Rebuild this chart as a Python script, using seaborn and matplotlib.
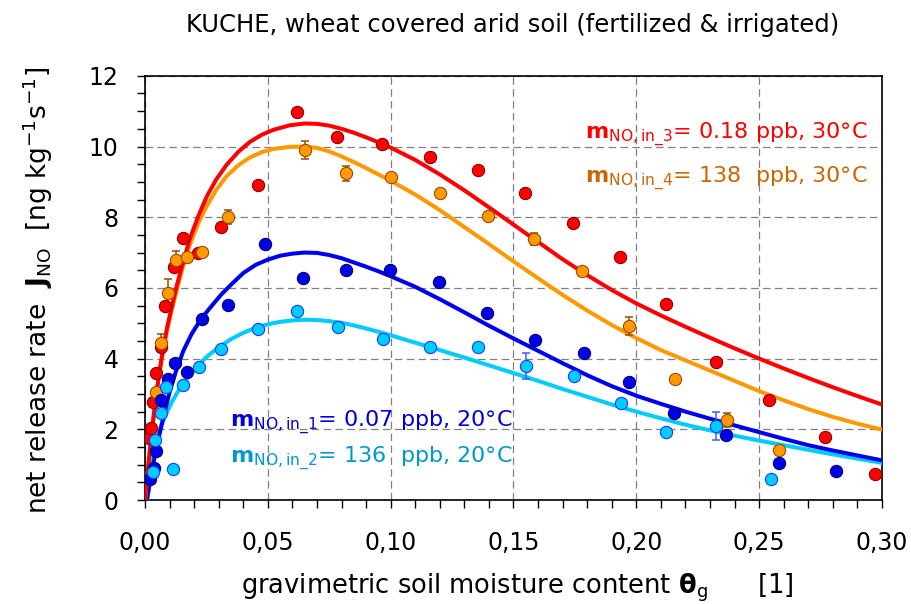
import matplotlib
matplotlib.use("Agg")
import matplotlib.pyplot as plt
from matplotlib.ticker import MultipleLocator, FuncFormatter
import seaborn as sns

# ---- measured NO release rates (theta_g [1], J_NO [ng kg-1 s-1]) ----
theta_m1 = [0.0020, 0.0037, 0.0045, 0.0064, 0.0092, 0.0122, 0.0169, 0.0230, 0.0339, 0.0488,
            0.0644, 0.0820, 0.0996, 0.1196, 0.1392, 0.1588, 0.1785, 0.1972, 0.2154, 0.2365,
            0.2581, 0.2812]
J_m1 = [0.59, 0.90, 1.40, 2.83, 3.42, 3.87, 3.63, 5.12, 5.52, 7.23,
        6.27, 6.51, 6.51, 6.18, 5.30, 4.53, 4.17, 3.33, 2.47, 1.84,
        1.06, 0.83]

theta_m2 = [0.0031, 0.0041, 0.0064, 0.0085, 0.0115, 0.0156, 0.0220, 0.0308, 0.0461, 0.0617,
            0.0786, 0.0969, 0.1161, 0.1355, 0.1551, 0.1745, 0.1938, 0.2121, 0.2324, 0.2548]
J_m2 = [0.78, 1.70, 2.45, 3.21, 0.88, 3.25, 3.77, 4.27, 4.83, 5.36,
        4.88, 4.55, 4.32, 4.32, 3.79, 3.51, 2.75, 1.91, 2.10, 0.59]
err_m2 = [0, 0, 0, 0, 0, 0, 0, 0, 0, 0,
          0, 0, 0, 0, 0.36, 0, 0, 0, 0.39, 0]

theta_m3 = [0.0018, 0.0024, 0.0031, 0.0043, 0.0064, 0.0081, 0.0118, 0.0156, 0.0217, 0.0309,
            0.0461, 0.0617, 0.0783, 0.0965, 0.1159, 0.1355, 0.1547, 0.1741, 0.1934, 0.2121,
            0.2324, 0.2541, 0.2768, 0.2972]
J_m3 = [1.75, 2.03, 2.78, 3.60, 4.34, 5.49, 6.60, 7.40, 7.00, 7.73,
        8.90, 10.98, 10.26, 10.07, 9.69, 9.34, 8.68, 7.85, 6.88, 5.54,
        3.91, 2.83, 1.77, 0.74]

theta_m4 = [0.0045, 0.0064, 0.0092, 0.0125, 0.0169, 0.0233, 0.0336, 0.0650, 0.0820, 0.1000,
            0.1199, 0.1396, 0.1585, 0.1779, 0.1972, 0.2159, 0.2371, 0.2581]
J_m4 = [3.05, 4.45, 5.86, 6.79, 6.88, 7.02, 8.01, 9.90, 9.24, 9.15,
        8.68, 8.03, 7.38, 6.49, 4.92, 3.42, 2.26, 1.41]
err_m4 = [0, 0.26, 0.38, 0.24, 0, 0, 0.20, 0.26, 0.22, 0,
          0, 0, 0.18, 0, 0.26, 0, 0.20, 0]

# ---- fitted release-rate curves ----
tail_x = [0.11, 0.12, 0.13, 0.14, 0.15, 0.16, 0.17, 0.18, 0.19, 0.20,
          0.21, 0.22, 0.23, 0.24, 0.25, 0.26, 0.27, 0.28, 0.29, 0.30]

fit_x_m3 = [0.0, 0.001, 0.002, 0.003, 0.0045, 0.006, 0.0075, 0.009, 0.011, 0.013,
            0.015, 0.0183, 0.0217, 0.0251, 0.029, 0.0332, 0.038, 0.0427, 0.0475, 0.0522,
            0.0589, 0.065, 0.070, 0.075, 0.080, 0.085, 0.090, 0.095, 0.100] + tail_x
fit_m3 = [0.0, 0.72, 1.42, 2.07, 2.95, 3.68, 4.32, 4.88, 5.50, 6.08,
          6.60, 7.40, 8.03, 8.58, 9.07, 9.48, 9.85, 10.13, 10.33, 10.47,
          10.60, 10.65, 10.64, 10.59, 10.50, 10.39, 10.26, 10.12, 9.97,
          9.62, 9.21, 8.76, 8.28, 7.79, 7.30, 6.81, 6.36, 5.94, 5.56,
          5.22, 4.90, 4.59, 4.29, 4.00, 3.72, 3.45, 3.19, 2.94, 2.70]

fit_x_m4 = fit_x_m3
fit_m4 = [0.0, 0.72, 1.41, 2.05, 2.93, 3.65, 4.27, 4.80, 5.40, 5.96,
          6.48, 7.22, 7.83, 8.31, 8.77, 9.16, 9.47, 9.69, 9.84, 9.93,
          9.99, 10.00, 9.96, 9.86, 9.72, 9.56, 9.39, 9.21, 9.03,
          8.64, 8.20, 7.72, 7.24, 6.75, 6.27, 5.80, 5.36, 4.95, 4.58,
          4.24, 3.95, 3.66, 3.37, 3.08, 2.82, 2.57, 2.35, 2.16, 1.99]

fit_x_m1 = [0.0007, 0.002, 0.003, 0.004, 0.005, 0.0061, 0.008, 0.0102, 0.0125, 0.0156,
            0.019, 0.023, 0.027, 0.031, 0.035, 0.040, 0.045, 0.050, 0.055, 0.060,
            0.065, 0.070, 0.075, 0.080, 0.085, 0.090, 0.095, 0.100] + tail_x
fit_m1 = [0.0, 0.50, 0.88, 1.24, 1.58, 1.92, 2.50, 3.10, 3.62, 4.22,
          4.70, 5.14, 5.48, 5.81, 6.09, 6.42, 6.65, 6.80, 6.91, 6.97,
          7.00, 6.99, 6.93, 6.84, 6.72, 6.60, 6.47, 6.33,
          6.03, 5.68, 5.31, 4.93, 4.57, 4.22, 3.87, 3.53, 3.22, 2.95,
          2.72, 2.50, 2.30, 2.11, 1.92, 1.73, 1.55, 1.40, 1.26, 1.12]

fit_x_m2 = [0.001, 0.002, 0.003, 0.004, 0.005, 0.0065, 0.0088, 0.011, 0.0135, 0.0156,
            0.018, 0.021, 0.0251, 0.030, 0.035, 0.040, 0.045, 0.050, 0.055, 0.060,
            0.065, 0.070, 0.075, 0.080, 0.085, 0.090, 0.095, 0.100] + tail_x
fit_m2 = [0.0, 0.62, 1.08, 1.45, 1.74, 2.08, 2.47, 2.78, 3.08, 3.30,
          3.52, 3.77, 4.05, 4.32, 4.55, 4.73, 4.87, 4.97, 5.04, 5.08,
          5.10, 5.09, 5.06, 5.01, 4.94, 4.85, 4.76, 4.66,
          4.45, 4.24, 4.03, 3.81, 3.59, 3.37, 3.14, 2.92, 2.70, 2.50,
          2.31, 2.13, 1.97, 1.82, 1.68, 1.55, 1.42, 1.29, 1.17, 1.05]

x_ticks = [0.00, 0.05, 0.10, 0.15, 0.20, 0.25, 0.30]
y_ticks = [0, 2, 4, 6, 8, 10, 12]

sns.set_style("ticks")
plt.rcParams["font.family"] = ["DejaVu Sans"]
plt.rcParams["mathtext.fontset"] = "dejavusans"
plt.rcParams["text.color"] = "black"
plt.rcParams["axes.labelcolor"] = "black"
plt.rcParams["xtick.color"] = "black"
plt.rcParams["ytick.color"] = "black"
plt.rcParams["xtick.labelcolor"] = "black"
plt.rcParams["ytick.labelcolor"] = "black"

fig = plt.figure(figsize=(9.12, 6.04), dpi=100)
ax = fig.add_axes([145 / 912, 1 - 500 / 604, (882 - 145) / 912, (500 - 75.8) / 604])

series = [
    # theta, J, err, fit x, fit y, line colour, face, edge, err colour
    (theta_m3, J_m3, None, fit_x_m3, fit_m3, "#FF0000", "#FF0000", "#8B0000", None),
    (theta_m4, J_m4, err_m4, fit_x_m4, fit_m4, "#FF9900", "#FF9900", "#9A4A00", "#9A4A00"),
    (theta_m1, J_m1, None, fit_x_m1, fit_m1, "#0000F0", "#0000E6", "#00007A", None),
    (theta_m2, J_m2, err_m2, fit_x_m2, fit_m2, "#00CCFF", "#00CCFF", "#1A3CFF", "#3A5CFF"),
]

# fitted curves
for th, J, err, fx, fy, lc, fc, ec, erc in series[::-1]:
    sns.lineplot(x=fx, y=fy, ax=ax, color=lc, lw=2.9, sort=False,
                 estimator=None, zorder=3, solid_joinstyle="round")

# error bars and measured points
for th, J, err, fx, fy, lc, fc, ec, erc in series:
    if err is not None:
        th_e = [t for t, e in zip(th, err) if e > 0]
        J_e = [j for j, e in zip(J, err) if e > 0]
        e_e = [e for e in err if e > 0]
        ax.errorbar(th_e, J_e, yerr=e_e, fmt="none", ecolor=erc, elinewidth=1.1,
                    capsize=3.2, capthick=1.1, zorder=4)
    sns.scatterplot(x=th, y=J, ax=ax, color=fc, edgecolor=ec, linewidth=0.8,
                    s=78, zorder=5, legend=False)

ax.set_xlim(0, 0.30)
ax.set_ylim(0, 12)
ax.set_xticks(x_ticks)
ax.set_yticks(y_ticks)
ax.xaxis.set_minor_locator(MultipleLocator(0.01))
ax.yaxis.set_minor_locator(MultipleLocator(0.5))
ax.xaxis.set_major_formatter(FuncFormatter(lambda v, p: f"{v:.2f}".replace(".", ",")))
ax.yaxis.set_major_formatter(FuncFormatter(lambda v, p: f"{v:.0f}"))
ax.tick_params(which="both", direction="out", length=6, width=1, color="black",
               labelcolor="black", labelsize=17)
ax.tick_params(axis="y", which="major", pad=13)
ax.tick_params(axis="x", which="major", pad=16)

ax.grid(True, which="major", color="#808080", lw=0.9, ls=(0, (6, 3.5)))
ax.set_axisbelow(True)
for sp in ax.spines.values():
    sp.set_visible(True)
    sp.set_color("black")
    sp.set_linewidth(1.2)
ax.set_xlabel("")
ax.set_ylabel("")

# series annotations
lab_kw = dict(fontsize=16, ha="right", va="baseline", zorder=6)
ax.text(0.2939, 10.20, r"$\mathbf{m}_{\mathrm{NO,in\_3}}$= 0.18 ppb, 30°C", color="#FF0000", **lab_kw)
ax.text(0.2939, 8.96, r"$\mathbf{m}_{\mathrm{NO,in\_4}}$= 138  ppb, 30°C", color="#CC6600", **lab_kw)
ax.text(0.1496, 2.07, r"$\mathbf{m}_{\mathrm{NO,in\_1}}$= 0.07 ppb, 20°C", color="#0000E0", **lab_kw)
ax.text(0.1496, 1.04, r"$\mathbf{m}_{\mathrm{NO,in\_2}}$= 136  ppb, 20°C", color="#0099CC", **lab_kw)

fig.text(513 / 912, 1 - 25 / 604, "KUCHE, wheat covered arid soil (fertilized & irrigated)",
         ha="center", va="center", fontsize=17.5, color="black")
fig.text(517 / 912, 1 - 588 / 604,
         r"gravimetric soil moisture content $\mathbf{θ}_{\mathrm{g}}$      [1]",
         ha="center", va="center", fontsize=18.5, color="black")
fig.text(38 / 912, 1 - 290 / 604,
         r"net release rate  $\mathbf{J}_{\mathrm{NO}}$  [ng kg$^{-1}$s$^{-1}$]",
         ha="center", va="center", rotation=90, fontsize=19, color="black")

fig.savefig("out.png", dpi=100)
